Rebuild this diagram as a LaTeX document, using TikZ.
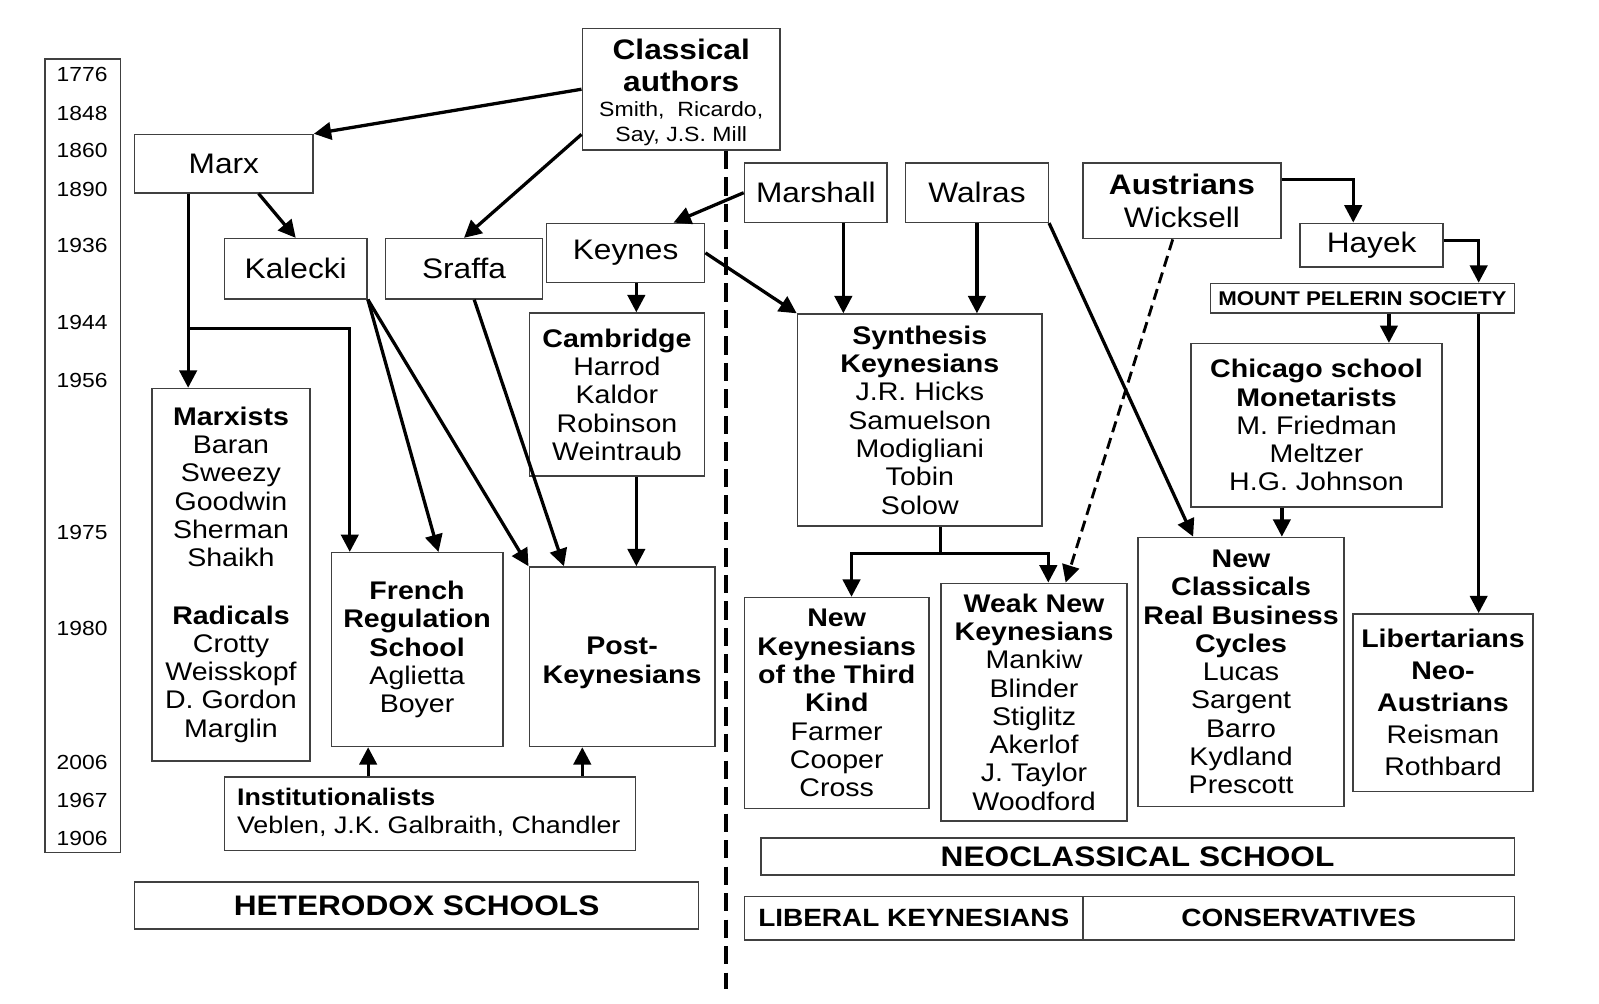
\documentclass[tikz,border=0pt]{standalone}
\usepackage{fontspec}
\setmainfont[FakeStretch=1.12]{Liberation Sans}
\usetikzlibrary{arrows.meta,calc}
\begin{document}
\begin{tikzpicture}[x=1pt,y=-1pt,
  box/.style={draw=black!75,line width=1.5pt,inner sep=0pt,align=center},
  fbig/.style={font={\fontsize{27.7}{31}\selectfont}},
  fmed/.style={font={\fontsize{25}{27.75}\selectfont}},
  yr/.style={inner sep=0pt,font={\fontsize{20}{22}\selectfont}},
  arr/.style={line width=3.2pt,-{Triangle[length=17pt,width=17pt]}},
  plain/.style={line width=3.2pt},
  divider/.style={line width=4.3pt,dash pattern=on 18pt off 8pt}]
\useasboundingbox (0,0) rectangle (1568,984);

% timeline
\node[box,minimum width=74pt,minimum height=778pt] (timeline) at (81,447) {};
\node[yr] (t1) at (80.5,73) {1776};
\node[yr] (t2) at (80.5,111) {1848};
\node[yr] (t3) at (80.5,148) {1860};
\node[yr] (t4) at (80.5,186) {1890};
\node[yr] (t5) at (80.5,241) {1936};
\node[yr] (t6) at (80.5,316) {1944};
\node[yr] (t7) at (80.5,373) {1956};
\node[yr] (t8) at (80.5,522) {1975};
\node[yr] (t9) at (80.5,616) {1980};
\node[yr] (t10) at (80.5,748) {2006};
\node[yr] (t11) at (80.5,785) {1967};
\node[yr] (t12) at (80.5,822) {1906};

% top row
\node[box,minimum width=194pt,minimum height=119pt] (classical) at (668,87.5) {};
\node[fbig,align=center,inner sep=0pt] (classicaltext) at (668,90.5)
  {\textbf{Classical}\\\textbf{authors}\\[-6pt]{\fontsize{20.2}{24}\selectfont Smith,~~Ricardo,}\\[-7pt]{\fontsize{20.2}{24}\selectfont Say, J.S. Mill}};
\node[box,fbig,minimum width=175pt,minimum height=57pt] (marx) at (219.5,160.5) {Marx};
\node[box,fbig,minimum width=140pt,minimum height=59pt] (kalecki) at (290,263.5) {Kalecki};
\node[box,fbig,minimum width=154pt,minimum height=59pt] (sraffa) at (455,263.5) {Sraffa};
\node[box,fbig,minimum width=155pt,minimum height=58pt] (keynes) at (613.5,248) {Keynes};
\node[box,fbig,minimum width=140pt,minimum height=58pt] (marshall) at (800,189) {Marshall};
\node[box,fbig,minimum width=140pt,minimum height=58pt] (walras) at (958,189) {Walras};
\node[box,font={\fontsize{27.7}{32}\selectfont},minimum width=194pt,minimum height=74pt] (austrians) at (1159,197) {\textbf{Austrians}\\Wicksell};
\node[box,fbig,minimum width=140pt,minimum height=43pt] (hayek) at (1345,240.5) {Hayek};
\node[box,font={\fontsize{19.5}{22}\selectfont\bfseries},minimum width=298pt,minimum height=29pt] (mps) at (1336,292.5) {MOUNT PELERIN SOCIETY};

% middle
\node[box,fmed,minimum width=172pt,minimum height=160pt] (cambridge) at (605,387)
  {\textbf{Cambridge}\\Harrod\\Kaldor\\Robinson\\Weintraub};
\node[box,fmed,minimum width=240pt,minimum height=208pt] (synth) at (902,412)
  {\textbf{Synthesis}\\\textbf{Keynesians}\\J.R. Hicks\\Samuelson\\Modigliani\\Tobin\\Solow};
\node[box,fmed,minimum width=246pt,minimum height=160pt] (chicago) at (1291,417)
  {\textbf{Chicago school}\\\textbf{Monetarists}\\M. Friedman\\Meltzer\\H.G. Johnson};
\node[box,fmed,minimum width=155pt,minimum height=365pt] (marxists) at (226.5,563.5)
  {\textbf{Marxists}\\Baran\\Sweezy\\Goodwin\\Sherman\\Shaikh\\[28.5pt]\textbf{Radicals}\\Crotty\\Weisskopf\\D. Gordon\\Marglin};
\node[box,fmed,minimum width=168pt,minimum height=190pt] (frenchreg) at (409,637)
  {\textbf{French}\\\textbf{Regulation}\\\textbf{School}\\Aglietta\\Boyer};
\node[box,minimum width=182pt,minimum height=176pt] (postk) at (610,644) {};
\node[fmed,align=center,inner sep=0pt] (postktext) at (610,650)
  {\textbf{Post-}\\\textbf{Keynesians}};
\node[box,fmed,minimum width=181pt,minimum height=207pt] (nktk) at (820.5,689.5)
  {\textbf{New}\\\textbf{Keynesians}\\\textbf{of the Third}\\\textbf{Kind}\\Farmer\\Cooper\\Cross};
\node[box,fmed,minimum width=182pt,minimum height=233pt] (weaknk) at (1014,688.5)
  {\textbf{Weak New}\\\textbf{Keynesians}\\Mankiw\\Blinder\\Stiglitz\\Akerlof\\J. Taylor\\Woodford};
\node[box,fmed,minimum width=202pt,minimum height=264pt] (newclass) at (1217,659)
  {\textbf{New}\\\textbf{Classicals}\\\textbf{Real Business}\\\textbf{Cycles}\\Lucas\\Sargent\\Barro\\Kydland\\Prescott};
\node[box,font={\fontsize{25}{31.5}\selectfont},minimum width=176pt,minimum height=174pt] (libert) at (1415,689)
  {\textbf{Libertarians}\\\textbf{Neo-}\\\textbf{Austrians}\\Reisman\\Rothbard};

% bottom
\node[box,minimum width=403pt,minimum height=72pt] (inst) at (421.5,798) {};
\node[anchor=west,inner sep=0pt,align=left,font={\fontsize{23.5}{27}\selectfont}] (insttext) at ([xshift=13pt,yshift=1.5pt]inst.west)
  {\textbf{Institutionalists}\\Veblen, J.K. Galbraith, Chandler};
\node[box,font={\fontsize{27.7}{31}\selectfont\bfseries},minimum width=553pt,minimum height=46pt] (hetero) at (408.5,888) {HETERODOX SCHOOLS};
\node[box,font={\fontsize{27.7}{31}\selectfont\bfseries},minimum width=739pt,minimum height=36pt] (neoclass) at (1115.5,840) {NEOCLASSICAL SCHOOL};
\node[box,font={\fontsize{24.5}{28}\selectfont\bfseries},minimum width=332pt,minimum height=43pt] (liberal) at (896,900.5) {LIBERAL KEYNESIANS};
\node[box,font={\fontsize{24.5}{28}\selectfont\bfseries},minimum width=423pt,minimum height=43pt] (conserv) at (1273.5,900.5) {CONSERVATIVES};

% helper coordinates
\coordinate (mxb) at (184.5,322);
\coordinate (xk) at (624,0);
\coordinate (xm) at (827,0);
\coordinate (xw) at (958,0);
\coordinate (xa) at (1327,0);
\coordinate (xh) at (1450,0);
\coordinate (xp) at (1362,0);
\coordinate (xc) at (1257,0);
\coordinate (xs) at (922,0);
\coordinate (xn1) at (835,0);
\coordinate (xn2) at (1028,0);
\coordinate (yb) at (0,543);
\coordinate (xi1) at (361,0);
\coordinate (xi2) at (571,0);
\coordinate (dvb) at (712,970);

% divider
\draw[divider] (classical.south -| dvb) -- (dvb);

% connectors
\draw[arr] (classical.west) -- (marx.north east);
\draw[arr] ([yshift=16pt]classical.south west) -- (sraffa.north);
\draw[arr] (marshall.west) -- ([xshift=47pt]keynes.north);
\draw[arr] ([xshift=34pt]marx.south) -- (kalecki.north);
\draw[arr] (marx.south -| mxb) -- (marxists.north -| mxb);
\draw[arr] (mxb) -| ([xshift=-66pt]frenchreg.north);
\draw[arr] (kalecki.south east) -- ([xshift=21pt]frenchreg.north);
\draw[arr] (kalecki.south east) -- (postk.north west);
\draw[arr] ([xshift=10pt]sraffa.south) -- ([xshift=-57pt]postk.north);
\draw[arr] (keynes.south -| xk) -- (cambridge.north -| xk);
\draw[arr] (cambridge.south -| xk) -- (postk.north -| xk);
\draw[arr] (keynes.east) -- (synth.north west);
\draw[arr] (marshall.south -| xm) -- (synth.north -| xm);
\draw[arr] (walras.south -| xw) -- (synth.north -| xw);
\draw[arr] (walras.south east) -- ([xshift=-47pt]newclass.north);
\draw[arr,dash pattern=on 11pt off 6pt,line width=2.8pt] ([xshift=-9pt]austrians.south) -- ([xshift=31pt]weaknk.north);
\draw[arr] ([yshift=21pt]austrians.east) -| (hayek.north -| xa);
\draw[arr] ([yshift=5pt]hayek.east) -| (mps.north -| xh);
\draw[arr] (mps.south -| xp) -- (chicago.north -| xp);
\draw[arr] (mps.south -| xh) -- (libert.north -| xh);
\draw[arr] (chicago.south -| xc) -- (newclass.north -| xc);
\draw[plain] (synth.south -| xs) -- (yb -| xs);
\draw[arr] (yb -| xs) -| (nktk.north -| xn1);
\draw[arr] (yb -| xs) -| (weaknk.north -| xn2);
\draw[arr] (inst.north -| xi1) -- (frenchreg.south -| xi1);
\draw[arr] (inst.north -| xi2) -- (postk.south -| xi2);
\end{tikzpicture}
\end{document}
